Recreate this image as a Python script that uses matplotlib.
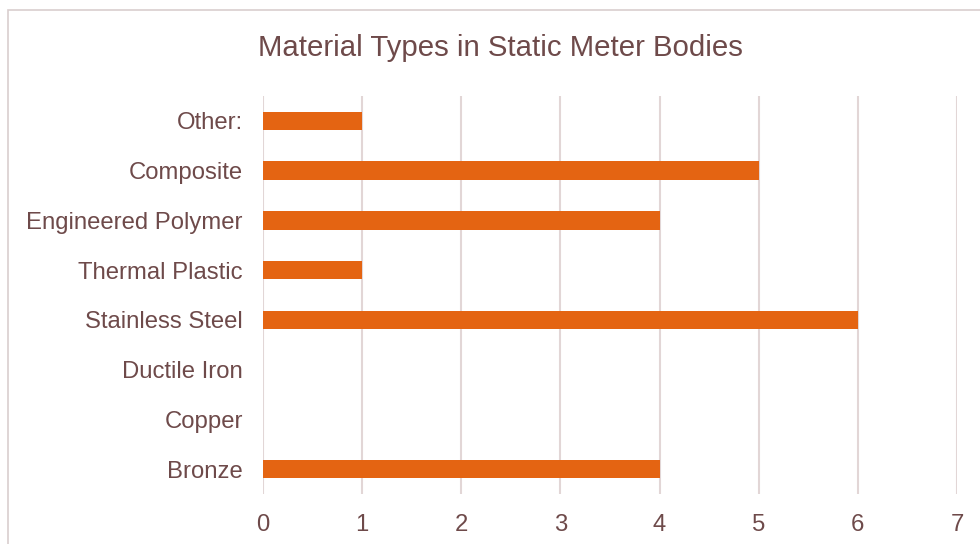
import matplotlib
matplotlib.rcParams['font.family'] = ['Liberation Sans', 'DejaVu Sans']
import matplotlib.pyplot as plt
from matplotlib.patches import Rectangle

categories = ['Bronze', 'Copper', 'Ductile Iron', 'Stainless Steel',
              'Thermal Plastic', 'Engineered Polymer', 'Composite', 'Other:']
counts = [4, 0, 0, 6, 1, 4, 5, 1]
xticks = [0, 1, 2, 3, 4, 5, 6, 7]

text_col = '#6E4A4A'
bar_col = '#E46412'
grid_col = '#E2D6D6'

fig = plt.figure(figsize=(9.8, 5.44), dpi=100)
fig.patches.append(Rectangle((8 / 980, -0.1), 1.2, 1 - 10 / 544 + 0.1,
                             transform=fig.transFigure, fill=False,
                             edgecolor='#D9CECE', linewidth=1.2))
ax = fig.add_axes([263 / 980, 1 - 494 / 544, 694 / 980, 398 / 544])

ax.barh(range(len(categories)), counts, height=0.37, color=bar_col, zorder=3)
ax.set_xlim(0, 7)
ax.set_ylim(-0.5, len(categories) - 0.5)
ax.set_xticks(xticks)
ax.set_yticks(range(len(categories)))
ax.set_yticklabels(categories)
ax.xaxis.grid(True, color=grid_col, linewidth=1.5, zorder=0)
ax.tick_params(axis='both', length=0, labelsize=17.2, colors=text_col)
ax.tick_params(axis='y', pad=14.5)
ax.tick_params(axis='x', pad=14.5)
for s in ax.spines.values():
    s.set_visible(False)

fig.text(500 / 980, 1 - 48 / 544, 'Material Types in Static Meter Bodies',
         ha='center', va='center', fontsize=21.2, color=text_col)

plt.savefig('out.png', dpi=100)
